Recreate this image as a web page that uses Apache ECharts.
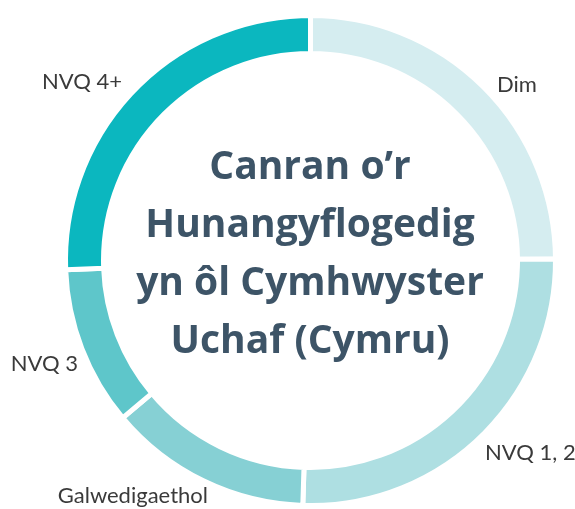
<!DOCTYPE html>
<html>
<head>
<meta charset="utf-8">
<script src="https://cdn.jsdelivr.net/npm/echarts@6/dist/echarts.min.js"></script>
<style>
html,body{margin:0;padding:0;background:#fff;}
#chart{width:575px;height:509px;}
</style>
</head>
<body>
<div id="chart"></div>
<script>
// Data
const categories = ['Dim', 'NVQ 1, 2', 'Galwedigaethol', 'NVQ 3', 'NVQ 4+'];
const values = [24.9, 25.6, 13.4, 10.5, 25.6];
const titleLines = ['Canran o’r', 'Hunangyflogedig', 'yn ôl Cymhwyster', 'Uchaf (Cymru)'];

// Styles
const colors = ['#d5edf0', '#aedfe2', '#86d0d4', '#5ec6ca', '#0bb7bf'];
// per-label line lengths (label placement around the ring)
const labelLen1 = [2.5, 23.9, 16.8, 42.9, 12.1];
const labelLen2 = [7, -18.2, -16.9, -41.2, -1.6];

const chart = echarts.init(document.getElementById('chart'), null, {renderer: 'canvas'});

const seriesData = categories.map((name, i) => ({
  name: name,
  value: values[i],
  itemStyle: {color: colors[i]},
  labelLine: {length: labelLen1[i], length2: labelLen2[i]}
}));

const option = {
  animation: false,
  backgroundColor: '#ffffff',
  title: {
    text: titleLines.join('\n'),
    left: 305,
    top: 134,
    textAlign: 'center',
    textStyle: {
      fontFamily: 'Open Sans',
      fontWeight: 'bold',
      fontSize: 39,
      lineHeight: 58,
      color: '#3d5467'
    }
  },
  series: [{
    type: 'pie',
    center: [310.5, 260.5],
    radius: [207, 245],
    startAngle: 90,
    clockwise: true,
    avoidLabelOverlap: false,
    itemStyle: {borderColor: '#ffffff', borderWidth: 5},
    label: {
      show: true,
      position: 'outside',
      formatter: '{b}',
      fontFamily: 'Lato',
      fontWeight: 'normal',
      fontSize: 22,
      color: '#3a3a3a',
      distanceToLabelLine: 5
    },
    labelLine: {show: false},
    emphasis: {disabled: true},
    data: seriesData
  }]
};
chart.setOption(option);
</script>
</body>
</html>
